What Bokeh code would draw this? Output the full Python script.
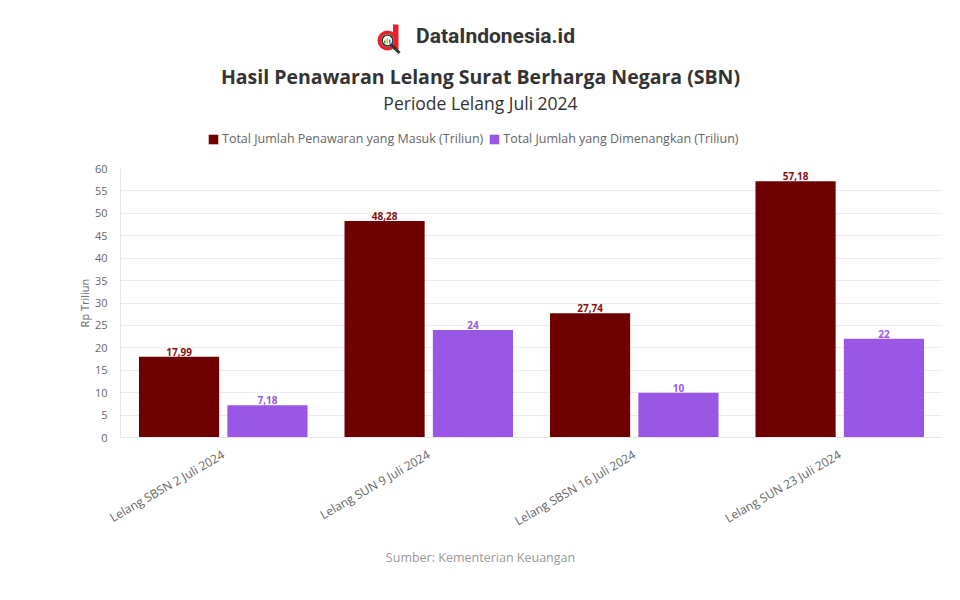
import math
from bokeh.plotting import figure
from bokeh.layouts import column
from bokeh.models import (ColumnDataSource, FactorRange, Range1d, Legend, LegendItem,
                          SingleIntervalTicker)
from bokeh.transform import dodge
from bokeh.embed import file_html
from bokeh.resources import INLINE
from bokeh.core.properties import value

categories = ["Lelang SBSN 2 Juli 2024", "Lelang SUN 9 Juli 2024",
              "Lelang SBSN 16 Juli 2024", "Lelang SUN 23 Juli 2024"]
penawaran = [17.99, 48.28, 27.74, 57.18]
dimenangkan = [7.18, 24, 10, 22]
penawaran_labels = ["17,99", "48,28", "27,74", "57,18"]
dimenangkan_labels = ["7,18", "24", "10", "22"]
series_names = ["Total Jumlah Penawaran yang Masuk (Triliun)",
                "Total Jumlah yang Dimenangkan (Triliun)"]
brand = "DataIndonesia.id"
title = "Hasil Penawaran Lelang Surat Berharga Negara (SBN)"
subtitle = "Periode Lelang Juli 2024"
source_note = "Sumber: Kementerian Keuangan"
y_title = "Rp Triliun"

RED = "#6e0000"
PURPLE = "#9a57e6"
LOGO_RED = "#e8222a"
FONT = "Open Sans"
W = 944
BL, BR = 120, 2          # frame borders shared by all three figures


def bare(fig):
    fig.axis.visible = False
    fig.grid.visible = False
    fig.outline_line_color = None
    return fig


# ---------------- header ----------------
HH = 158
head = bare(figure(width=W, height=HH, x_range=Range1d(BL, W - BR), y_range=Range1d(HH, 0),
                   output_backend="svg", toolbar_location=None,
                   min_border_left=BL, min_border_right=BR, min_border_top=0,
                   min_border_bottom=0))

# logo icon
head.circle(x=[387], y=[40], radius=10, radius_units="screen", color=LOGO_RED, line_color=None)
head.quad(left=[392.5], right=[398], top=[24], bottom=[49], color=LOGO_RED, line_color=None)
head.circle(x=[387], y=[40], radius=6.5, radius_units="screen", color="white", line_color=None)
head.quad(left=[383.5, 386, 388.5], right=[385, 387.5, 390], top=[40, 38, 39], bottom=[43, 43, 43],
          color=["#2fa84f", "#f2b705", "#2f7fd8"], line_color=None)
head.circle(x=[387], y=[40], radius=5.5, radius_units="screen", fill_color=None,
            line_color="#333333", line_width=1.6)
head.segment(x0=[391], y0=[44.5], x1=[399], y1=[52.5], line_color="#333333", line_width=3)

head.text(x=[495], y=[35], text=[brand], text_font=value("Roboto"), text_font_size="21px",
          text_font_style="bold", text_color="#333333", text_align="center",
          text_baseline="middle")
head.text(x=[480], y=[76], text=[title], text_font=value(FONT), text_font_size="19.5px",
          text_font_style="bold", text_color="#333333", text_align="center",
          text_baseline="middle")
head.text(x=[480], y=[102], text=[subtitle], text_font=value(FONT), text_font_size="17.5px",
          text_color="#333333", text_align="center", text_baseline="middle")

lr1 = head.vbar(x=[-1000], top=[0], width=1, color=RED, line_color=None)
lr2 = head.vbar(x=[-1000], top=[0], width=1, color=PURPLE, line_color=None)
legend = Legend(items=[LegendItem(label=series_names[0], renderers=[lr1]),
                       LegendItem(label=series_names[1], renderers=[lr2])],
                orientation="horizontal", location=(207 - BL, 11),
                label_text_font=FONT, label_text_font_size="12.5px",
                label_text_color="#666666", glyph_width=12, glyph_height=12,
                label_standoff=3, spacing=5, padding=0, margin=0,
                label_height=12, border_line_color=None, background_fill_alpha=0)
head.add_layout(legend, "center")

# ---------------- chart ----------------
src = ColumnDataSource(dict(cat=categories, a=penawaran, b=dimenangkan,
                            la=penawaran_labels, lb=dimenangkan_labels))

p = figure(x_range=FactorRange(*categories), y_range=(0, 60),
           width=W, height=381, output_backend="svg", toolbar_location=None,
           min_border_left=BL, min_border_right=BR, min_border_top=10,
           min_border_bottom=100)
p.outline_line_color = None

OFF = 0.215
p.vbar(x=dodge("cat", -OFF, range=p.x_range), top="a", width=0.39,
       source=src, color=RED, line_color=None)
p.vbar(x=dodge("cat", OFF, range=p.x_range), top="b", width=0.39,
       source=src, color=PURPLE, line_color=None)

p.text(x=dodge("cat", -OFF, range=p.x_range), y="a", text="la", source=src,
       text_align="center", text_baseline="bottom", y_offset=-1,
       text_font=value(FONT), text_font_size="10px", text_font_style="bold",
       text_color="#8a1010")
p.text(x=dodge("cat", OFF, range=p.x_range), y="b", text="lb", source=src,
       text_align="center", text_baseline="bottom", y_offset=-1,
       text_font=value(FONT), text_font_size="10px", text_font_style="bold",
       text_color=PURPLE)

p.yaxis.ticker = SingleIntervalTicker(interval=5)
p.yaxis.axis_label = y_title
p.yaxis.axis_label_text_font = FONT
p.yaxis.axis_label_text_font_size = "11px"
p.yaxis.axis_label_text_font_style = "normal"
p.yaxis.axis_label_text_color = "#666666"
p.yaxis.axis_label_standoff = 0
p.yaxis.major_label_text_font = FONT
p.yaxis.major_label_text_font_size = "11px"
p.yaxis.major_label_text_color = "#666666"
p.yaxis.axis_line_color = "#e6e6e6"
p.yaxis.major_tick_line_color = None
p.yaxis.minor_tick_line_color = None
p.yaxis.major_label_standoff = 7

p.xaxis.major_label_orientation = math.pi / 6
p.xaxis.major_label_text_font = FONT
p.xaxis.major_label_text_font_size = "12px"
p.xaxis.major_label_text_color = "#666666"
p.xaxis.axis_line_color = "#e6e6e6"
p.xaxis.major_tick_line_color = None
p.xaxis.major_label_standoff = 10

p.xgrid.grid_line_color = None
p.ygrid.grid_line_color = "#ececec"

# ---------------- footer ----------------
FH = 54
foot = bare(figure(width=W, height=FH, x_range=Range1d(BL, W - BR), y_range=Range1d(FH, 0),
                   output_backend="svg", toolbar_location=None,
                   min_border_left=BL, min_border_right=BR, min_border_top=0,
                   min_border_bottom=0))
foot.text(x=[480], y=[18], text=[source_note], text_font=value(FONT),
          text_font_size="12.5px", text_color="#999999", text_align="center",
          text_baseline="middle")

layout = column(head, p, foot, spacing=0)
open("out.html", "w").write(file_html(layout, INLINE))
